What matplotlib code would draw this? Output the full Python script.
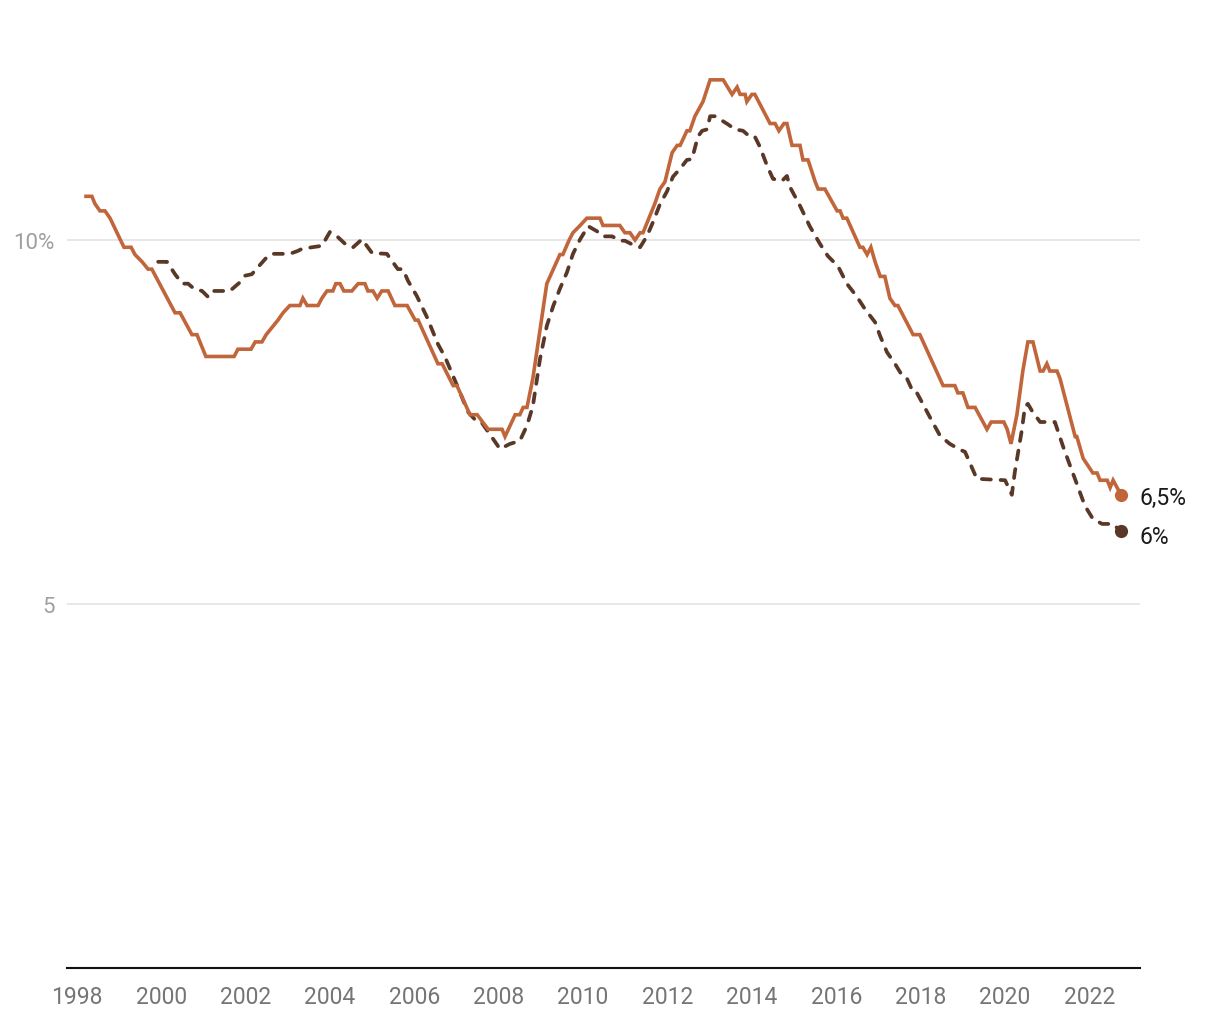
import matplotlib
matplotlib.use("Agg")
import matplotlib.pyplot as plt

# Data
solid_years = [
    1998.22, 1998.36, 1998.43, 1998.55, 1998.67, 1998.79, 1999.12, 1999.29, 1999.38, 1999.55,
    1999.69, 1999.78, 2000.33, 2000.45, 2000.73, 2000.85, 2001.06, 2001.73, 2001.82, 2002.13,
    2002.23, 2002.39, 2002.49, 2002.63, 2002.77, 2002.89, 2003.05, 2003.29, 2003.36, 2003.46,
    2003.72, 2003.81, 2003.93, 2004.07, 2004.14, 2004.24, 2004.33, 2004.52, 2004.67, 2004.83,
    2004.90, 2005.02, 2005.12, 2005.23, 2005.38, 2005.54, 2005.83, 2006.02, 2006.09, 2006.56,
    2006.66, 2006.92, 2007.01, 2007.32, 2007.49, 2007.75, 2008.08, 2008.15, 2008.39, 2008.50,
    2008.58, 2008.67, 2008.81, 2009.14, 2009.45, 2009.52, 2009.67, 2009.76, 2009.93, 2010.09,
    2010.40, 2010.47, 2010.87, 2010.99, 2011.11, 2011.23, 2011.35, 2011.42, 2011.70, 2011.82,
    2011.94, 2012.11, 2012.23, 2012.30, 2012.46, 2012.53, 2012.65, 2012.84, 2013.01, 2013.32,
    2013.53, 2013.65, 2013.72, 2013.84, 2013.88, 2014.00, 2014.07, 2014.43, 2014.55, 2014.64,
    2014.76, 2014.83, 2014.95, 2015.14, 2015.21, 2015.33, 2015.50, 2015.57, 2015.73, 2016.02,
    2016.09, 2016.16, 2016.25, 2016.56, 2016.63, 2016.73, 2016.82, 2016.92, 2017.04, 2017.15,
    2017.27, 2017.39, 2017.46, 2017.82, 2017.98, 2018.53, 2018.81, 2018.88, 2019.00, 2019.12,
    2019.29, 2019.57, 2019.67, 2019.97, 2020.05, 2020.14, 2020.28, 2020.42, 2020.54, 2020.66,
    2020.83, 2020.90, 2020.99, 2021.06, 2021.23, 2021.30, 2021.66, 2021.70, 2021.85, 2022.08,
    2022.18, 2022.25, 2022.42, 2022.49, 2022.56, 2022.70, 2022.75,
]
solid_vals = [
    10.6, 10.6, 10.5, 10.4, 10.4, 10.3, 9.9, 9.9, 9.8, 9.7,
    9.6, 9.6, 9.0, 9.0, 8.7, 8.7, 8.4, 8.4, 8.5, 8.5,
    8.6, 8.6, 8.7, 8.8, 8.9, 9.0, 9.1, 9.1, 9.2, 9.1,
    9.1, 9.2, 9.3, 9.3, 9.4, 9.4, 9.3, 9.3, 9.4, 9.4,
    9.3, 9.3, 9.2, 9.3, 9.3, 9.1, 9.1, 8.9, 8.9, 8.3,
    8.3, 8.0, 8.0, 7.6, 7.6, 7.4, 7.4, 7.3, 7.6, 7.6,
    7.7, 7.7, 8.1, 9.4, 9.8, 9.8, 10.0, 10.1, 10.2, 10.3,
    10.3, 10.2, 10.2, 10.1, 10.1, 10.0, 10.1, 10.1, 10.5, 10.7,
    10.8, 11.2, 11.3, 11.3, 11.5, 11.5, 11.7, 11.9, 12.2, 12.2,
    12.0, 12.1, 12.0, 12.0, 11.9, 12.0, 12.0, 11.6, 11.6, 11.5,
    11.6, 11.6, 11.3, 11.3, 11.1, 11.1, 10.8, 10.7, 10.7, 10.4,
    10.4, 10.3, 10.3, 9.9, 9.9, 9.8, 9.9, 9.7, 9.5, 9.5,
    9.2, 9.1, 9.1, 8.7, 8.7, 8.0, 8.0, 7.9, 7.9, 7.7,
    7.7, 7.4, 7.5, 7.5, 7.4, 7.2, 7.6, 8.2, 8.6, 8.6,
    8.2, 8.2, 8.3, 8.2, 8.2, 8.1, 7.3, 7.3, 7.0, 6.8,
    6.8, 6.7, 6.7, 6.6, 6.7, 6.55, 6.5,
]

dashed_years = [
    1999.93, 2000.14, 2000.33, 2000.50, 2000.64, 2000.78, 2000.97, 2001.11, 2001.21, 2001.63,
    2001.87, 2001.99, 2002.15, 2002.30, 2002.53, 2002.65, 2003.05, 2003.24, 2003.34, 2003.81,
    2004.00, 2004.17, 2004.41, 2004.55, 2004.76, 2005.00, 2005.35, 2005.61, 2005.73, 2005.85,
    2006.06, 2006.30, 2006.56, 2006.73, 2006.92, 2007.08, 2007.27, 2007.49, 2007.60, 2007.84,
    2008.03, 2008.27, 2008.50, 2008.67, 2008.81, 2008.98, 2009.14, 2009.29, 2009.45, 2009.62,
    2009.76, 2009.93, 2010.12, 2010.33, 2010.45, 2010.69, 2010.87, 2010.99, 2011.23, 2011.35,
    2011.51, 2011.66, 2011.82, 2011.99, 2012.13, 2012.30, 2012.46, 2012.58, 2012.72, 2012.82,
    2012.94, 2013.01, 2013.13, 2013.32, 2013.43, 2013.60, 2013.79, 2013.95, 2014.07, 2014.19,
    2014.36, 2014.50, 2014.71, 2014.83, 2014.90, 2015.14, 2015.37, 2015.61, 2015.80, 2016.04,
    2016.25, 2016.49, 2016.68, 2016.92, 2017.04, 2017.20, 2017.39, 2017.58, 2017.68, 2017.82,
    2017.91, 2018.05, 2018.27, 2018.46, 2018.69, 2018.93, 2019.05, 2019.33, 2020.00, 2020.16,
    2020.23, 2020.40, 2020.47, 2020.54, 2020.64, 2020.83, 2021.18, 2021.37, 2021.54, 2021.70,
    2021.89, 2022.08, 2022.30, 2022.56, 2022.68, 2022.75,
]
dashed_vals = [
    9.70, 9.70, 9.53, 9.40, 9.40, 9.33, 9.30, 9.22, 9.30, 9.30,
    9.42, 9.51, 9.53, 9.63, 9.78, 9.81, 9.81, 9.85, 9.88, 9.92,
    10.11, 10.05, 9.92, 9.90, 10.01, 9.82, 9.81, 9.60, 9.60, 9.44,
    9.23, 8.94, 8.57, 8.39, 8.13, 7.91, 7.64, 7.50, 7.49, 7.29,
    7.13, 7.20, 7.24, 7.45, 7.72, 8.37, 8.82, 9.09, 9.33, 9.56,
    9.81, 10.01, 10.19, 10.12, 10.05, 10.05, 9.99, 9.99, 9.92, 9.90,
    10.05, 10.25, 10.49, 10.67, 10.87, 10.98, 11.10, 11.11, 11.42, 11.50,
    11.52, 11.70, 11.70, 11.63, 11.59, 11.52, 11.50, 11.42, 11.42, 11.28,
    11.02, 10.84, 10.81, 10.88, 10.73, 10.47, 10.19, 9.95, 9.78, 9.64,
    9.40, 9.22, 9.05, 8.87, 8.68, 8.46, 8.30, 8.12, 8.09, 7.91,
    7.90, 7.75, 7.51, 7.31, 7.20, 7.12, 7.09, 6.72, 6.70, 6.50,
    6.81, 7.40, 7.71, 7.75, 7.65, 7.50, 7.50, 7.17, 6.90, 6.65,
    6.35, 6.17, 6.10, 6.10, 6.03, 6.00,
]

x_ticks = list(range(1998, 2023, 2))
y_ticks = [5, 10]
y_ticklabels = ["5", "10%"]
end_labels = ["6,5%", "6%"]

solid_color = "#c1653b"
dashed_color = "#5a3828"

plt.rcParams["font.family"] = ["Roboto", "DejaVu Sans"]

fig = plt.figure(figsize=(12.2, 10.2), dpi=100)
ax = fig.add_axes([67 / 1220, 51 / 1020, 1073 / 1220, 969 / 1020])

ax.plot(dashed_years, dashed_vals, color=dashed_color, lw=2.7,
        linestyle=(0, (2.4, 2.6)), dash_capstyle="round", zorder=3)
ax.plot(solid_years, solid_vals, color=solid_color, lw=2.6,
        solid_joinstyle="miter", zorder=4)

# end dots + labels
for xs, ys, col, lab, dy in [(solid_years, solid_vals, solid_color, end_labels[0], -2),
                             (dashed_years, dashed_vals, dashed_color, end_labels[1], -4)]:
    ax.plot(xs[-1], ys[-1], "o", color=col, ms=9.5, mec="none", zorder=5)
    ax.annotate(lab, (xs[-1], ys[-1]), xytext=(13, dy), textcoords="offset points",
                ha="left", va="center", fontsize=16.5, color="#1a1a1a")

ax.set_xlim(1997.77, 2023.197)
ax.set_ylim(0, 969 / 72.8)

ax.set_xticks(x_ticks)
ax.set_xticklabels([str(y) for y in x_ticks])
ax.set_yticks(y_ticks)
ax.set_yticklabels(y_ticklabels)
ax.tick_params(axis="x", length=0, pad=12, labelsize=16.5, labelcolor="#757575")
ax.tick_params(axis="y", length=0, pad=9, labelsize=16, labelcolor="#a0a0a0")

ax.grid(axis="y", color="#e3e3e3", lw=1.2)
ax.set_axisbelow(True)
for s in ["top", "left", "right"]:
    ax.spines[s].set_visible(False)
ax.spines["bottom"].set_color("#111111")
ax.spines["bottom"].set_linewidth(1.5)
ax.patch.set_alpha(0)

fig.savefig("out.png", dpi=100)
